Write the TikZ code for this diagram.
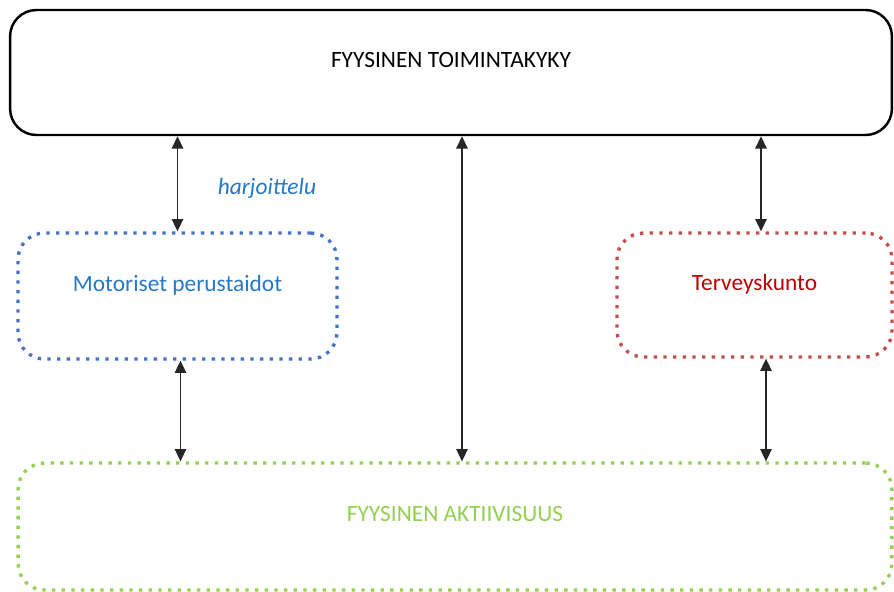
\documentclass[tikz,border=0pt]{standalone}
\usepackage{fontspec}
\setmainfont{Carlito}
\usepackage{tikz}
\usetikzlibrary{arrows.meta, calc, positioning}
\usepackage{xcolor}
\definecolor{motblue}{HTML}{4472C4}
\definecolor{mottxt}{HTML}{2478C8}
\definecolor{tervred}{HTML}{C0504D}
\definecolor{tervtxt}{HTML}{C00000}
\definecolor{aktgreen}{HTML}{92D050}
\tikzset{
  fbox/.style    ={draw, rounded corners=15pt, inner sep=0pt, text depth=0.5cm, font=\fontsize{13.3}{16}\selectfont},
  toimbox/.style ={fbox, line width=1.4pt},
  dotbox/.style  ={fbox, line width=1.9pt, dash pattern=on 1.9pt off 3.6pt},
  twoway/.style  ={{Triangle[length=7pt,width=6.5pt]}-{Triangle[length=7pt,width=6.5pt]}, line width=0.8pt, black!85},
  capt/.style    ={font=\fontsize{13.3}{16}\selectfont\itshape, text=mottxt},
}

\begin{document}
\begin{tikzpicture}[x=0.02cm, y=-0.02cm]
  \useasboundingbox (0,0) rectangle (894,592);
  % boxes
  \node[toimbox, minimum width=17.64cm, minimum height=2.5cm] (toim) at (451,72.5) {FYYSINEN TOIMINTAKYKY};
  \node[dotbox, draw=motblue, text=mottxt, minimum width=6.38cm, minimum height=2.52cm] (mot) at (177.5,296) {Motoriset perustaidot};
  \node[dotbox, draw=tervred, text=tervtxt, minimum width=5.5cm, minimum height=2.48cm] (terv) at (754.5,295) {Terveyskunto};
  \node[dotbox, draw=aktgreen, text=aktgreen, minimum width=17.48cm, minimum height=2.54cm] (akt) at (455,526.5) {FYYSINEN AKTIIVISUUS};
  \node[capt] (harj) at (267,188) {harjoittelu};

  % arrows
  \coordinate (mid) at (462,300); \coordinate (rup) at (761,300); \coordinate (rdn) at (766,300);
  \draw[twoway] (mot.north |- toim.south) -- (mot.north);
  \draw[twoway] (toim.south -| mid) -- (akt.north -| mid);
  \draw[twoway] (toim.south -| rup) -- (terv.north -| rup);
  \draw[twoway] ($(mot.south)+(3,0)$) -- (akt.north -| {$(mot.south)+(3,0)$});
  \draw[twoway] (terv.south -| rdn) -- (akt.north -| rdn);
\end{tikzpicture}
\end{document}
